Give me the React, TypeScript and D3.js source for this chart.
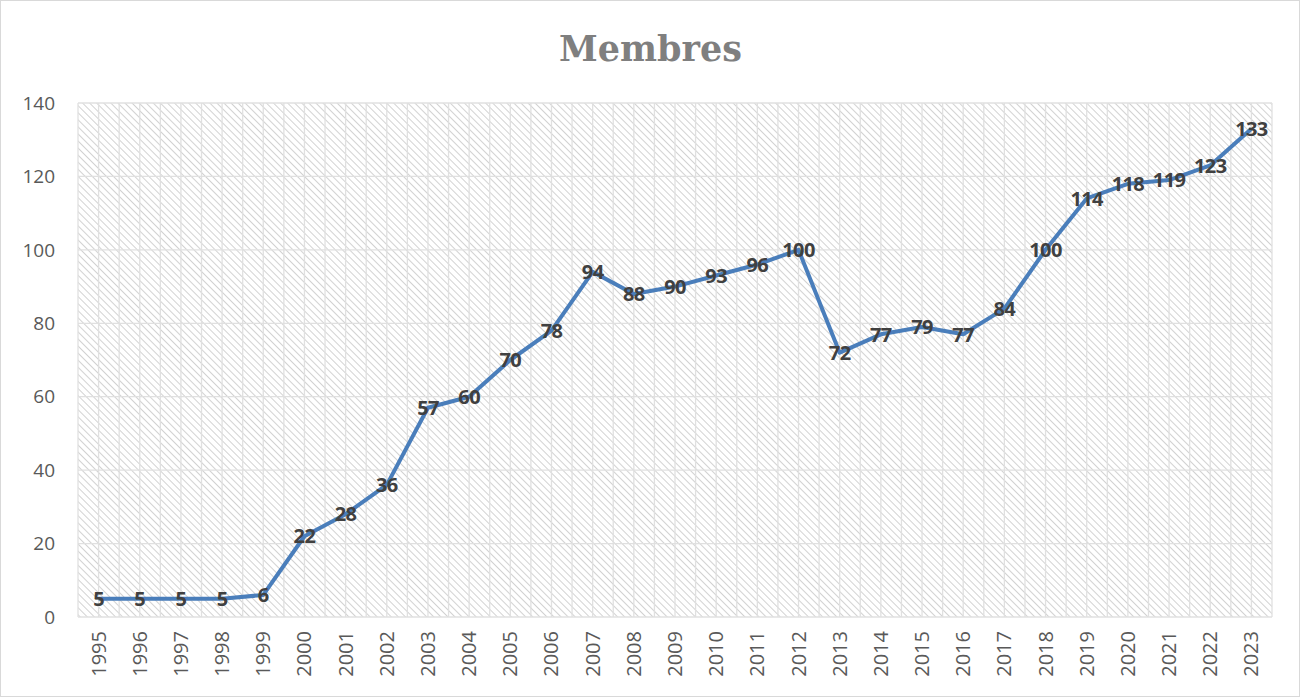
import { useEffect, useRef } from 'react';
import * as d3 from 'd3';

const years = ['1995','1996','1997','1998','1999','2000','2001','2002','2003','2004','2005','2006','2007','2008','2009','2010','2011','2012','2013','2014','2015','2016','2017','2018','2019','2020','2021','2022','2023'];
const members = [5,5,5,5,6,22,28,36,57,60,70,78,94,88,90,93,96,100,72,77,79,77,84,100,114,118,119,123,133];
const yTicks = [0,20,40,60,80,100,120,140];

export default function App() {
    const svgRef = useRef<SVGSVGElement>(null);

    useEffect(() => {
        const svg = d3.select(svgRef.current);
        svg.selectAll('*').remove();

        const width = 1301;
        const height = 698;
        const margin = { top: 103, right: 29, bottom: 81, left: 78 };
        const font = '"Open Sans", "Noto Sans", sans-serif';

        // background + frame
        svg.append('rect')
            .attr('x', 0.5).attr('y', 0.5)
            .attr('width', width - 2).attr('height', height - 2)
            .attr('fill', '#fff').attr('stroke', '#d9d9d9');

        // hatch pattern (wide downward diagonal)
        const pat = svg.append('defs').append('pattern')
            .attr('id', 'hatch')
            .attr('patternUnits', 'userSpaceOnUse')
            .attr('width', 5).attr('height', 5)
            .attr('patternTransform', 'rotate(-45)');
        pat.append('rect').attr('width', 5).attr('height', 5).attr('fill', '#fff');
        pat.append('line')
            .attr('x1', 0).attr('y1', 0).attr('x2', 0).attr('y2', 5)
            .attr('stroke', '#d2d2d2').attr('stroke-width', 2);

        const x = d3.scaleBand()
            .domain(years)
            .range([margin.left, width - margin.right]);

        const y = d3.scaleLinear()
            .domain([0, 140])
            .range([height - margin.bottom, margin.top]);

        svg.append('rect')
            .attr('x', margin.left).attr('y', margin.top)
            .attr('width', width - margin.right - margin.left)
            .attr('height', height - margin.bottom - margin.top)
            .attr('fill', 'url(#hatch)');

        // grid
        const grid = svg.append('g').attr('stroke', '#e0e0e0').attr('stroke-width', 1.3);
        const half = x.bandwidth() / 2;
        d3.range(years.length * 2 + 1).forEach((i) => {
            const gx = margin.left + i * half;
            grid.append('line')
                .attr('x1', gx).attr('x2', gx)
                .attr('y1', margin.top).attr('y2', height - margin.bottom);
        });
        grid.selectAll('.h')
            .data(yTicks)
            .join('line')
            .attr('x1', margin.left).attr('x2', width - margin.right)
            .attr('y1', (d) => y(d)).attr('y2', (d) => y(d));

        // y axis labels
        svg.append('g')
            .selectAll('text')
            .data(yTicks)
            .join('text')
            .attr('x', 55)
            .attr('y', (d) => y(d))
            .attr('dy', '0.35em')
            .attr('text-anchor', 'end')
            .attr('fill', '#595959')
            .style('font-family', font)
            .style('font-size', '19px')
            .text((d) => d);

        // x axis labels
        svg.append('g')
            .selectAll('text')
            .data(years)
            .join('text')
            .attr('transform', (d) => `translate(${x(d)! + half},${height - margin.bottom + 14}) rotate(-90)`)
            .attr('dy', '0.35em')
            .attr('text-anchor', 'end')
            .attr('fill', '#595959')
            .style('font-family', font)
            .style('font-size', '20px')
            .text((d) => d);

        // line
        const line = d3.line<number>()
            .x((_, i) => x(years[i])! + half)
            .y((d) => y(d));

        svg.append('path')
            .datum(members)
            .attr('fill', 'none')
            .attr('stroke', '#4a7ebb')
            .attr('stroke-width', 4)
            .attr('stroke-linejoin', 'round')
            .attr('d', line);

        // data labels
        svg.append('g')
            .selectAll('text')
            .data(members)
            .join('text')
            .attr('x', (_, i) => x(years[i])! + half)
            .attr('y', (d) => y(d))
            .attr('dy', '0.36em')
            .attr('text-anchor', 'middle')
            .attr('fill', '#404040')
            .style('font-family', font)
            .style('font-weight', 'bold')
            .style('font-size', '20px')
            .style('letter-spacing', '-0.6px')
            .text((d) => d);

        // title
        svg.append('text')
            .attr('x', width / 2)
            .attr('y', 61)
            .attr('text-anchor', 'middle')
            .attr('fill', '#7f7f7f')
            .style('font-family', '"DejaVu Serif", "Liberation Serif", serif')
            .style('font-weight', 'bold')
            .style('font-size', '35px')
            .text('Membres');
    }, []);

    return (
        <svg ref={svgRef} width={1301} height={698}
            style={{ position: 'absolute', left: 0, top: 0 }} />
    );
}
